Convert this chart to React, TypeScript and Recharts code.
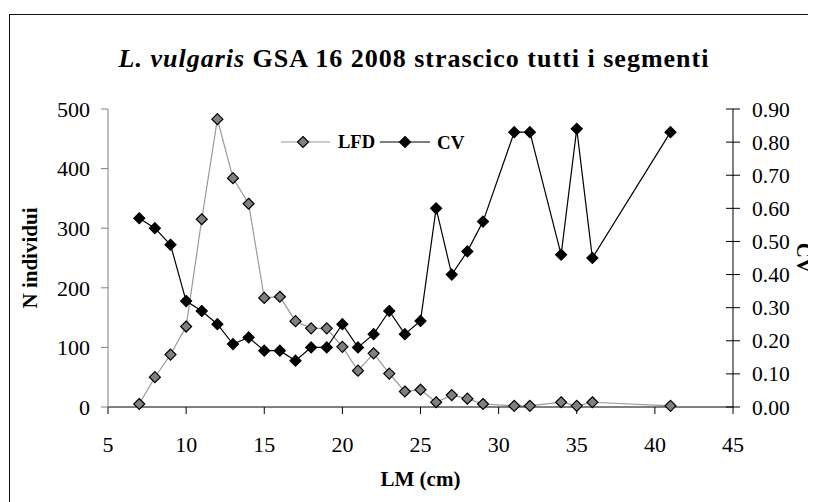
import { Legend, Line, LineChart, XAxis, YAxis } from "recharts";

const lengths = [7, 8, 9, 10, 11, 12, 13, 14, 15, 16, 17, 18, 19, 20, 21, 22, 23, 24, 25, 26, 27, 28, 29, 31, 32, 34, 35, 36, 41];
const lfd = [5, 50, 88, 135, 315, 483, 384, 341, 183, 185, 144, 132, 132, 101, 61, 90, 56, 26, 29, 8, 20, 14, 5, 2, 2, 8, 2, 8, 2];
const cv = [0.57, 0.54, 0.49, 0.32, 0.29, 0.25, 0.19, 0.21, 0.17, 0.17, 0.14, 0.18, 0.18, 0.25, 0.18, 0.22, 0.29, 0.22, 0.26, 0.6, 0.4, 0.47, 0.56, 0.83, 0.83, 0.46, 0.84, 0.45, 0.83];

const xTicks = [5, 10, 15, 20, 25, 30, 35, 40, 45];
const leftTicks = [0, 100, 200, 300, 400, 500];
const rightTicks = [0, 0.1, 0.2, 0.3, 0.4, 0.5, 0.6, 0.7, 0.8, 0.9];

const data = lengths.map((lm, i) => ({ lm, lfd: lfd[i], cv: cv[i] }));

const FONT = '"Liberation Serif", "Times New Roman", serif';

// diamond marker
const diamond = (fill: string) => (props: any) => {
  const { cx, cy, index } = props;
  if (cx == null || cy == null) return <g key={index} />;
  const r = 5.5;
  return (
    <polygon
      key={index}
      points={`${cx},${cy - r} ${cx + r},${cy} ${cx},${cy + r} ${cx - r},${cy}`}
      fill={fill}
      stroke="#000"
      strokeWidth={1.2}
    />
  );
};

const LegendBox = () => (
  <svg width={200} height={24} style={{ display: "block", fontFamily: FONT }}>
    <line x1={0} y1={12} x2={49} y2={12} stroke="#999" strokeWidth={1.2} />
    <polygon points="22,6.5 27.5,12 22,17.5 16.5,12" fill="#808080" stroke="#000" strokeWidth={1.2} />
    <text x={57} y={12} dy="0.35em" fontSize={18.5} fontWeight="bold" fill="#000">LFD</text>
    <line x1={99} y1={12} x2={149} y2={12} stroke="#000" strokeWidth={1.2} />
    <polygon points="124,6.5 129.5,12 124,17.5 118.5,12" fill="#000" stroke="#000" strokeWidth={1.2} />
    <text x={156} y={12} dy="0.35em" fontSize={19} fontWeight="bold" fill="#000">CV</text>
  </svg>
);

// right axis ticks cross the axis line
const RightTick = (props: any) => {
  const { x, y, payload } = props;
  const ax = x - 19;
  return (
    <g>
      <line x1={ax - 7} y1={y} x2={ax + 7} y2={y} stroke="#000" strokeWidth={1} />
      <text x={x} y={y} dy="0.35em" textAnchor="start" fontSize={21.5} fill="#000" fontFamily={FONT}>
        {Number(payload.value).toFixed(2)}
      </text>
    </g>
  );
};

export default function App() {
  return (
    <div style={{ position: "relative", width: 808, height: 494, overflow: "hidden", fontFamily: FONT }}>
      {/* frame, cut off at right and bottom */}
      <div
        style={{
          position: "absolute",
          left: 1,
          top: 6,
          width: 900,
          height: 700,
          border: "1.5px solid #111",
          boxSizing: "border-box",
        }}
      />
      <div
        style={{
          position: "absolute",
          left: 0,
          width: 812,
          top: 36,
          textAlign: "center",
          fontSize: 26,
          letterSpacing: 1,
          fontWeight: "bold",
          color: "#000",
          whiteSpace: "nowrap",
        }}
      >
        <i>L. vulgaris</i> GSA 16 2008 strascico tutti i segmenti
      </div>
      <div style={{ position: "absolute", left: 0, top: 0 }}>
        <LineChart width={808} height={494} data={data} margin={{ top: 101, right: 0, bottom: 0, left: 0 }}>
          <XAxis
            dataKey="lm"
            type="number"
            domain={[5, 45]}
            ticks={xTicks}
            height={95}
            tickSize={7}
            tickMargin={22}
            stroke="#000"
            tick={{ fill: "#000", fontSize: 22, fontFamily: FONT }}
            label={{
              value: "LM (cm)",
              position: "insideBottom",
              offset: 16,
              fill: "#000",
              fontSize: 21,
              fontWeight: "bold",
              fontFamily: FONT,
            }}
          />
          <YAxis
            yAxisId="left"
            domain={[0, 500]}
            ticks={leftTicks}
            width={100}
            tickSize={7}
            tickMargin={11}
            stroke="#808080"
            tick={{ fill: "#000", fontSize: 22, fontFamily: FONT }}
            label={{
              value: "N individui",
              angle: -90,
              position: "insideLeft",
              offset: 22,
              style: { textAnchor: "middle" },
              fill: "#000",
              fontSize: 21,
              fontWeight: "bold",
              fontFamily: FONT,
            }}
          />
          <YAxis
            yAxisId="right"
            orientation="right"
            domain={[0, 0.9]}
            ticks={rightTicks}
            width={83}
            tickSize={7}
            tickMargin={12}
            tickLine={false}
            stroke="#000"
            tick={<RightTick />}
            label={{
              value: "CV",
              angle: 90,
              position: "insideRight",
              offset: 12,
              style: { textAnchor: "middle" },
              fill: "#000",
              fontSize: 21,
              fontWeight: "bold",
              fontFamily: FONT,
            }}
          />
          <Legend
            layout="horizontal"
            verticalAlign="middle"
            align="center"
            wrapperStyle={{ left: 273, top: 122, width: 200 }}
            content={() => <LegendBox />}
          />
          <Line
            yAxisId="left"
            dataKey="lfd"
            stroke="#999"
            strokeWidth={1.2}
            dot={diamond("#808080")}
            activeDot={false}
            isAnimationActive={false}
          />
          <Line
            yAxisId="right"
            dataKey="cv"
            stroke="#000"
            strokeWidth={1.2}
            dot={diamond("#000")}
            activeDot={false}
            isAnimationActive={false}
          />
        </LineChart>
      </div>
    </div>
  );
}
